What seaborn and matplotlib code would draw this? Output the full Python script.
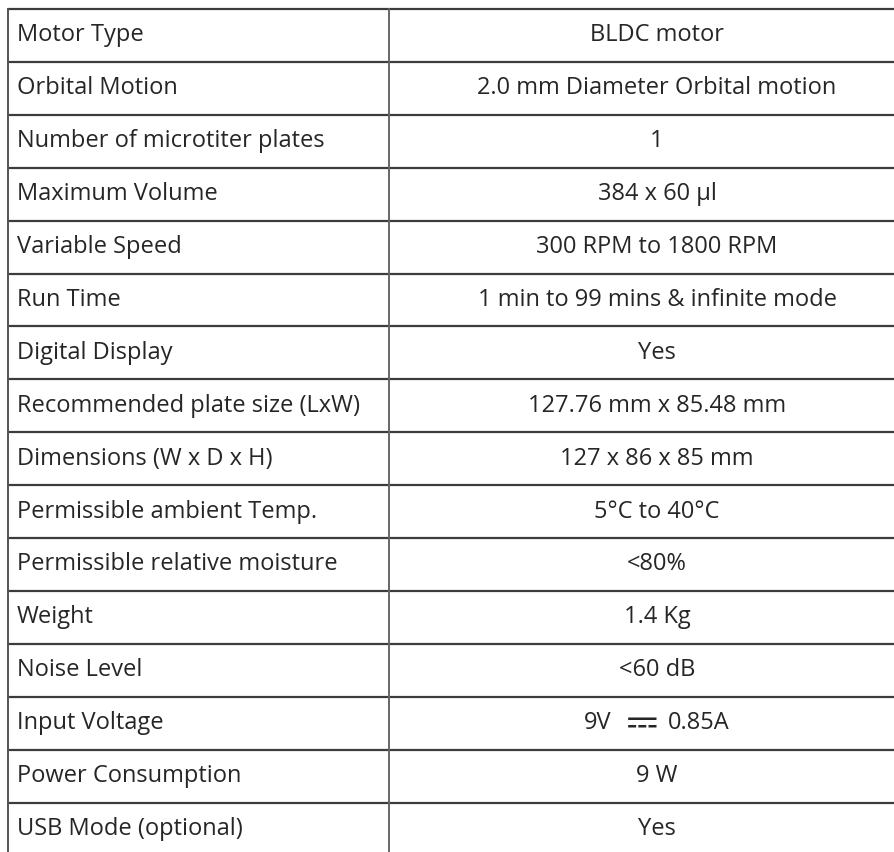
import matplotlib
matplotlib.use("Agg")
import matplotlib.pyplot as plt
from matplotlib import font_manager as fm
from matplotlib.ft2font import FT2Font
import seaborn as sns

# Specification table
params = [
    "Motor Type",
    "Orbital Motion",
    "Number of microtiter plates",
    "Maximum Volume",
    "Variable Speed",
    "Run Time",
    "Digital Display",
    "Recommended plate size (LxW)",
    "Dimensions (W x D x H)",
    "Permissible ambient Temp.",
    "Permissible relative moisture",
    "Weight",
    "Noise Level",
    "Input Voltage",
    "Power Consumption",
    "USB Mode (optional)",
]
values = [
    "BLDC motor",
    "2.0 mm Diameter Orbital motion",
    "1",
    "384 x 60 µl",
    "300 RPM to 1800 RPM",
    "1 min to 99 mins & infinite mode",
    "Yes",
    "127.76 mm x 85.48 mm",
    "127 x 86 x 85 mm",
    "5°C to 40°C",
    "<80%",
    "1.4 Kg",
    "<60 dB",
    "9V \u2393 0.85A",
    "9 W",
    "Yes",
]

DC = "\u2393"


def family_with(char):
    for f in fm.fontManager.ttflist:
        if f.weight not in (400, "normal", "regular"):
            continue
        try:
            if ord(char) in FT2Font(f.fname).get_charmap():
                return f.name
        except Exception:
            pass
    return None


sns.set_theme(style="white")
base = "Open Sans"
dc_family = family_with(DC)
plt.rcParams["font.family"] = [base, "DejaVu Sans"] + ([dc_family] if dc_family else [])

W, H = 894, 852
fig = plt.figure(figsize=(W / 100, H / 100), dpi=100)
ax = fig.add_axes([0, 0, 1, 1])
ax.set_xlim(0, W)
ax.set_ylim(H, 0)
ax.axis("off")

top = 9
row_h = 52.9
left = 8
mid = 389
n = len(params)
fs = 17
tcol = "#262626"

for i in range(n + 1):
    y = top + i * row_h
    if y < H:
        ax.plot([left, W], [y, y], color="#3c3c3c", linewidth=1.6)
ax.plot([left, left], [top, H], color="#555555", linewidth=1.4)
ax.plot([mid, mid], [top, H], color="#666666", linewidth=1.4)

renderer = fig.canvas.get_renderer()
for i, (p, v) in enumerate(zip(params, values)):
    yc = top + (i + 0.5) * row_h
    ax.text(17, yc, p, ha="left", va="center", fontsize=fs, color=tcol)
    if DC in v:
        a, b = [s.strip() for s in v.split(DC)]
        ta = ax.text(0, yc, a, ha="left", va="center", fontsize=fs, color=tcol)
        tb = ax.text(0, yc, b, ha="left", va="center", fontsize=fs, color=tcol)
        wa = ta.get_window_extent(renderer).width
        wb = tb.get_window_extent(renderer).width
        gap1, gap2 = 13, 9
        if dc_family:
            ts = ax.text(0, yc, DC, ha="left", va="center", fontsize=27,
                         color=tcol, family=[dc_family])
            sw = ts.get_window_extent(renderer).width
        else:
            ts, sw = None, 31
        x0 = 657 - (wa + gap1 + sw + gap2 + wb) / 2
        ta.set_x(x0)
        sx = x0 + wa + gap1
        tb.set_x(sx + sw + gap2)
        if ts is not None:
            ts.set_x(sx)
        else:
            # no installed family has the DC sign: draw it as a shape
            ax.plot([sx, sx + sw], [yc - 6, yc - 6], color=tcol, linewidth=2.2,
                    solid_capstyle="butt")
            dw = 7
            for k in range(3):
                dx = sx + k * (sw - dw) / 2
                ax.plot([dx, dx + dw], [yc + 2, yc + 2], color=tcol,
                        linewidth=3.2, solid_capstyle="butt")
    else:
        ax.text(657, yc, v, ha="center", va="center", fontsize=fs, color=tcol)

fig.savefig("out.png", dpi=100)
